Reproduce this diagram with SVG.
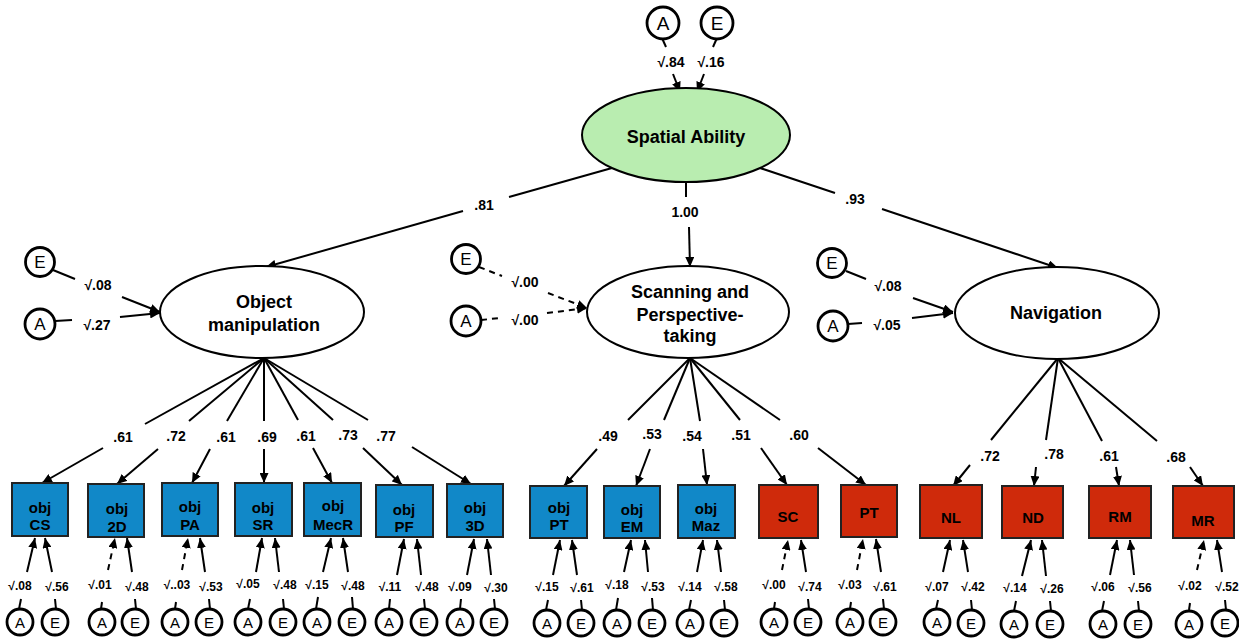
<svg xmlns="http://www.w3.org/2000/svg" width="1239" height="640" viewBox="0 0 1239 640">
<style>
.ln{stroke:#000;stroke-width:2;fill:none}
.ar{marker-end:url(#ah)}
.ds{stroke-dasharray:6 5}
.ec{fill:#fff;stroke:#000;stroke-width:2.8}
.t{font-family:"Liberation Sans",Arial,sans-serif;fill:#000;text-anchor:middle}
.big{font-size:18px;font-weight:bold}
.ld{font-size:14px;font-weight:bold}
.el{font-size:14px;font-weight:bold}
.bl{font-size:12px;font-weight:bold}
.bx{font-size:15px;font-weight:bold}
.blue{fill:#1188c8;stroke:#222;stroke-width:2}
.red{fill:#cf2a0b;stroke:#222;stroke-width:2}
</style>
<defs>
<marker id="ah" markerUnits="userSpaceOnUse" markerWidth="11" markerHeight="9" refX="10" refY="4.5" orient="auto">
<path d="M0,0 L10,4.5 L0,9 z" fill="#000"/>
</marker>
</defs>
<rect width="1239" height="640" fill="#fff"/>

<g id="connectors">
<line class="ln" x1="662" y1="38" x2="666" y2="47"/>
<line class="ln" x1="717" y1="38" x2="713" y2="47"/>
<line class="ln ar" x1="673" y1="74" x2="680" y2="92"/>
<line class="ln ar" x1="704" y1="74" x2="697" y2="92"/>
<line class="ln" x1="612" y1="168" x2="509" y2="197"/>
<line class="ln ar" x1="463" y1="211" x2="266" y2="267"/>
<line class="ln" x1="686" y1="182" x2="686" y2="197"/>
<line class="ln ar" x1="689" y1="227" x2="690" y2="267"/>
<line class="ln" x1="760" y1="168" x2="835" y2="193"/>
<line class="ln ar" x1="882" y1="209" x2="1058" y2="268"/>
<line class="ln" x1="53" y1="270" x2="75" y2="279"/>
<line class="ln ar" x1="122" y1="297" x2="160" y2="312"/>
<line class="ln" x1="55" y1="321" x2="72" y2="320"/>
<line class="ln ar" x1="120" y1="317" x2="160" y2="313"/>
<line class="ln ds" x1="479" y1="267" x2="502" y2="276"/>
<line class="ln ds ar" x1="548" y1="293" x2="587" y2="308"/>
<line class="ln ds" x1="481" y1="320" x2="500" y2="318"/>
<line class="ln ds ar" x1="547" y1="313" x2="587" y2="308"/>
<line class="ln" x1="846" y1="271" x2="866" y2="279"/>
<line class="ln ar" x1="913" y1="298" x2="953" y2="312"/>
<line class="ln" x1="848" y1="324" x2="862" y2="323"/>
<line class="ln ar" x1="912" y1="318" x2="953" y2="313"/>
<line class="ln" x1="264" y1="358" x2="145" y2="424"/>
<line class="ln ar" x1="103" y1="448" x2="42" y2="483"/>
<line class="ln" x1="264" y1="358" x2="189" y2="421"/>
<line class="ln ar" x1="158" y1="449" x2="117" y2="484"/>
<line class="ln" x1="264" y1="358" x2="227" y2="421"/>
<line class="ln ar" x1="210" y1="449" x2="192" y2="483"/>
<line class="ln" x1="264" y1="358" x2="264" y2="421"/>
<line class="ln ar" x1="264" y1="449" x2="264" y2="483"/>
<line class="ln" x1="264" y1="358" x2="298" y2="420"/>
<line class="ln ar" x1="313" y1="448" x2="332" y2="483"/>
<line class="ln" x1="264" y1="358" x2="333" y2="420"/>
<line class="ln ar" x1="363" y1="448" x2="402" y2="485"/>
<line class="ln" x1="264" y1="358" x2="368" y2="420"/>
<line class="ln ar" x1="412" y1="447" x2="471" y2="484"/>
<line class="ln" x1="690" y1="358" x2="628" y2="420"/>
<line class="ln ar" x1="597" y1="449" x2="564" y2="486"/>
<line class="ln" x1="690" y1="358" x2="664" y2="420"/>
<line class="ln ar" x1="650" y1="449" x2="636" y2="486"/>
<line class="ln" x1="690" y1="358" x2="700" y2="421"/>
<line class="ln ar" x1="703" y1="449" x2="707" y2="485"/>
<line class="ln" x1="690" y1="358" x2="740" y2="420"/>
<line class="ln ar" x1="761" y1="448" x2="787" y2="485"/>
<line class="ln" x1="690" y1="358" x2="780" y2="420"/>
<line class="ln ar" x1="818" y1="448" x2="866" y2="485"/>
<line class="ln" x1="1058" y1="358" x2="991" y2="440"/>
<line class="ln ar" x1="970" y1="465" x2="953" y2="486"/>
<line class="ln" x1="1058" y1="358" x2="1046" y2="440"/>
<line class="ln ar" x1="1036" y1="467" x2="1034" y2="486"/>
<line class="ln" x1="1058" y1="358" x2="1102" y2="441"/>
<line class="ln ar" x1="1116" y1="467" x2="1119" y2="486"/>
<line class="ln" x1="1058" y1="358" x2="1157" y2="441"/>
<line class="ln ar" x1="1190" y1="467" x2="1203" y2="486"/>
<g>
<line class="ln ar" x1="27" y1="572" x2="35" y2="538"/><line class="ln ar" x1="52" y1="572" x2="45" y2="538"/>
<line class="ln" x1="21" y1="599" x2="19" y2="609"/><line class="ln" x1="55" y1="599" x2="56" y2="609"/>
<line class="ln ds ar" x1="108" y1="570" x2="115" y2="538"/><line class="ln ar" x1="132" y1="572" x2="127" y2="538"/>
<line class="ln" x1="102" y1="602" x2="101" y2="609"/><line class="ln" x1="135" y1="599" x2="136" y2="609"/>
<line class="ln ds ar" x1="182" y1="570" x2="188" y2="538"/><line class="ln ar" x1="205" y1="572" x2="200" y2="538"/>
<line class="ln" x1="176" y1="602" x2="175" y2="609"/><line class="ln" x1="209" y1="599" x2="210" y2="609"/>
<line class="ln ar" x1="256" y1="572" x2="262" y2="538"/><line class="ln ar" x1="279" y1="572" x2="275" y2="538"/>
<line class="ln" x1="250" y1="599" x2="248" y2="609"/><line class="ln" x1="283" y1="599" x2="284" y2="609"/>
<line class="ln ar" x1="323" y1="572" x2="331" y2="538"/><line class="ln ar" x1="348" y1="572" x2="343" y2="538"/>
<line class="ln" x1="318" y1="597" x2="316" y2="609"/><line class="ln" x1="352" y1="597" x2="353" y2="609"/>
<line class="ln ar" x1="397" y1="575" x2="404" y2="539"/><line class="ln ar" x1="421" y1="575" x2="417" y2="539"/>
<line class="ln" x1="390" y1="599" x2="389" y2="609"/><line class="ln" x1="424" y1="599" x2="425" y2="609"/>
<line class="ln ar" x1="467" y1="575" x2="474" y2="539"/><line class="ln ar" x1="491" y1="575" x2="487" y2="539"/>
<line class="ln" x1="461" y1="599" x2="460" y2="609"/><line class="ln" x1="494" y1="599" x2="495" y2="609"/>
<line class="ln ar" x1="553" y1="575" x2="560" y2="540"/><line class="ln ar" x1="577" y1="575" x2="572" y2="540"/>
<line class="ln" x1="548" y1="600" x2="546" y2="610"/><line class="ln" x1="581" y1="600" x2="582" y2="610"/>
<line class="ln ar" x1="624" y1="572" x2="631" y2="540"/><line class="ln ar" x1="648" y1="572" x2="645" y2="540"/>
<line class="ln" x1="618" y1="598" x2="616" y2="610"/><line class="ln" x1="652" y1="598" x2="653" y2="610"/>
<line class="ln ar" x1="697" y1="572" x2="703" y2="540"/><line class="ln ar" x1="721" y1="572" x2="717" y2="540"/>
<line class="ln" x1="691" y1="600" x2="689" y2="610"/><line class="ln" x1="724" y1="600" x2="725" y2="610"/>
<line class="ln ds ar" x1="782" y1="570" x2="788" y2="540"/><line class="ln ar" x1="806" y1="572" x2="801" y2="540"/>
<line class="ln" x1="775" y1="602" x2="774" y2="609"/><line class="ln" x1="808" y1="599" x2="809" y2="609"/>
<line class="ln ds ar" x1="857" y1="570" x2="863" y2="539"/><line class="ln ar" x1="881" y1="572" x2="876" y2="539"/>
<line class="ln" x1="851" y1="602" x2="850" y2="609"/><line class="ln" x1="883" y1="599" x2="884" y2="609"/>
<line class="ln ar" x1="943" y1="572" x2="950" y2="540"/><line class="ln ar" x1="968" y1="572" x2="963" y2="540"/>
<line class="ln" x1="938" y1="600" x2="936" y2="609"/><line class="ln" x1="971" y1="600" x2="972" y2="610"/>
<line class="ln ar" x1="1022" y1="576" x2="1031" y2="540"/><line class="ln ar" x1="1046" y1="576" x2="1042" y2="540"/>
<line class="ln" x1="1016" y1="601" x2="1014" y2="611"/><line class="ln" x1="1050" y1="601" x2="1051" y2="611"/>
<line class="ln ar" x1="1110" y1="575" x2="1117" y2="540"/><line class="ln ar" x1="1134" y1="575" x2="1130" y2="540"/>
<line class="ln" x1="1104" y1="601" x2="1102" y2="611"/><line class="ln" x1="1138" y1="601" x2="1139" y2="611"/>
<line class="ln ds ar" x1="1197" y1="570" x2="1204" y2="540"/><line class="ln ar" x1="1222" y1="572" x2="1217" y2="540"/>
<line class="ln" x1="1190" y1="603" x2="1189" y2="610"/><line class="ln" x1="1225" y1="600" x2="1226" y2="610"/>
</g>
</g>

<g id="path-labels">
<text class="t el" x="671" y="67">√.84</text>
<text class="t el" x="711" y="67">√.16</text>
<text class="t ld" x="484" y="210">.81</text>
<text class="t ld" x="685" y="217">1.00</text>
<text class="t ld" x="855" y="204">.93</text>
<text class="t el" x="98" y="290">√.08</text>
<text class="t el" x="97" y="330">√.27</text>
<text class="t el" x="525" y="287">√.00</text>
<text class="t el" x="525" y="325">√.00</text>
<text class="t el" x="888" y="291">√.08</text>
<text class="t el" x="887" y="330">√.05</text>
<text class="t ld" x="123" y="442">.61</text>
<text class="t ld" x="176" y="441">.72</text>
<text class="t ld" x="226" y="442">.61</text>
<text class="t ld" x="267" y="442">.69</text>
<text class="t ld" x="306" y="441">.61</text>
<text class="t ld" x="348" y="440">.73</text>
<text class="t ld" x="386" y="441">.77</text>
<text class="t ld" x="608" y="441">.49</text>
<text class="t ld" x="652" y="439">.53</text>
<text class="t ld" x="692" y="441">.54</text>
<text class="t ld" x="741" y="440">.51</text>
<text class="t ld" x="799" y="440">.60</text>
<text class="t ld" x="990" y="461">.72</text>
<text class="t ld" x="1054" y="459">.78</text>
<text class="t ld" x="1109" y="461">.61</text>
<text class="t ld" x="1176" y="462">.68</text>
<text class="t bl" x="20" y="590">√.08</text><text class="t bl" x="57" y="591">√.56</text>
<text class="t bl" x="100" y="589">√.01</text><text class="t bl" x="137" y="591">√.48</text>
<text class="t bl" x="177" y="589">√..03</text><text class="t bl" x="211" y="591">√.53</text>
<text class="t bl" x="248" y="588">√.05</text><text class="t bl" x="285" y="589">√.48</text>
<text class="t bl" x="317" y="589">√.15</text><text class="t bl" x="353" y="590">√.48</text>
<text class="t bl" x="390" y="591">√.11</text><text class="t bl" x="427" y="591">√.48</text>
<text class="t bl" x="460" y="591">√.09</text><text class="t bl" x="496" y="592">√.30</text>
<text class="t bl" x="547" y="591">√.15</text><text class="t bl" x="582" y="592">√.61</text>
<text class="t bl" x="617" y="589">√.18</text><text class="t bl" x="653" y="591">√.53</text>
<text class="t bl" x="690" y="591">√.14</text><text class="t bl" x="726" y="591">√.58</text>
<text class="t bl" x="774" y="589">√.00</text><text class="t bl" x="810" y="591">√.74</text>
<text class="t bl" x="850" y="589">√.03</text><text class="t bl" x="885" y="591">√.61</text>
<text class="t bl" x="937" y="591">√.07</text><text class="t bl" x="973" y="591">√.42</text>
<text class="t bl" x="1015" y="592">√.14</text><text class="t bl" x="1052" y="593">√.26</text>
<text class="t bl" x="1103" y="591">√.06</text><text class="t bl" x="1140" y="592">√.56</text>
<text class="t bl" x="1190" y="590">√.02</text><text class="t bl" x="1227" y="591">√.52</text>
</g>

<g id="spatial-ability">
<ellipse cx="686" cy="135" rx="104" ry="47" fill="#b9edb0" stroke="#000" stroke-width="2"/>
<text class="t big" x="686" y="143">Spatial Ability</text>
</g>
<g id="object-manipulation">
<ellipse cx="262" cy="312" rx="102" ry="46" fill="#fff" stroke="#000" stroke-width="2"/>
<text class="t big" x="264" y="308">Object</text>
<text class="t big" x="264" y="331">manipulation</text>
</g>
<g id="scanning">
<ellipse cx="688" cy="312" rx="101" ry="46" fill="#fff" stroke="#000" stroke-width="2"/>
<text class="t big" x="690" y="298">Scanning and</text>
<text class="t big" x="690" y="321">Perspective-</text>
<text class="t big" x="690" y="342">taking</text>
</g>
<g id="navigation">
<ellipse cx="1057" cy="313" rx="102" ry="46" fill="#fff" stroke="#000" stroke-width="2"/>
<text class="t big" x="1056" y="319">Navigation</text>
</g>

<g id="top-errors">
<circle class="ec" cx="663" cy="23" r="16"/><text class="t" x="663" y="30" font-size="19">A</text>
<circle class="ec" cx="717" cy="23" r="16"/><text class="t" x="717" y="30" font-size="19">E</text>
</g>
<g id="om-errors">
<circle class="ec" cx="40" cy="262" r="14.5"/><text class="t" x="40" y="268" font-size="17">E</text>
<circle class="ec" cx="40" cy="324" r="15"/><text class="t" x="40" y="330" font-size="17">A</text>
</g>
<g id="sp-errors">
<circle class="ec" cx="466" cy="259" r="14.5"/><text class="t" x="466" y="265" font-size="17">E</text>
<circle class="ec" cx="466" cy="321" r="15"/><text class="t" x="466" y="327" font-size="17">A</text>
</g>
<g id="nav-errors">
<circle class="ec" cx="832" cy="263" r="14.5"/><text class="t" x="832" y="269" font-size="17">E</text>
<circle class="ec" cx="833" cy="326" r="15"/><text class="t" x="833" y="332" font-size="17">A</text>
</g>

<g id="obj-CS"><rect class="blue" x="12" y="483" width="56" height="53"/><text class="t bx" x="40" y="513">obj</text><text class="t bx" x="40" y="530">CS</text></g>
<g id="obj-2D"><rect class="blue" x="88" y="484" width="56" height="53"/><text class="t bx" x="117" y="514">obj</text><text class="t bx" x="117" y="532">2D</text></g>
<g id="obj-PA"><rect class="blue" x="162" y="483" width="56" height="53"/><text class="t bx" x="190" y="512">obj</text><text class="t bx" x="190" y="530">PA</text></g>
<g id="obj-SR"><rect class="blue" x="235" y="483" width="57" height="53"/><text class="t bx" x="263" y="513">obj</text><text class="t bx" x="263" y="530">SR</text></g>
<g id="obj-MecR"><rect class="blue" x="304" y="483" width="57" height="53"/><text class="t bx" x="333" y="511">obj</text><text class="t bx" x="333" y="530">MecR</text></g>
<g id="obj-PF"><rect class="blue" x="376" y="485" width="57" height="52"/><text class="t bx" x="404" y="515">obj</text><text class="t bx" x="404" y="532">PF</text></g>
<g id="obj-3D"><rect class="blue" x="447" y="484" width="56" height="53"/><text class="t bx" x="475" y="513">obj</text><text class="t bx" x="475" y="531">3D</text></g>
<g id="obj-PT"><rect class="blue" x="530" y="486" width="57" height="52"/><text class="t bx" x="559" y="513">obj</text><text class="t bx" x="559" y="530">PT</text></g>
<g id="obj-EM"><rect class="blue" x="604" y="486" width="56" height="52"/><text class="t bx" x="632" y="515">obj</text><text class="t bx" x="632" y="532">EM</text></g>
<g id="obj-Maz"><rect class="blue" x="678" y="485" width="57" height="53"/><text class="t bx" x="706" y="514">obj</text><text class="t bx" x="706" y="531">Maz</text></g>
<g id="SC"><rect class="red" x="759" y="485" width="59" height="53"/><text class="t bx" x="788" y="522">SC</text></g>
<g id="PT"><rect class="red" x="841" y="485" width="56" height="52"/><text class="t bx" x="869" y="518">PT</text></g>
<g id="NL"><rect class="red" x="920" y="485" width="62" height="53"/><text class="t bx" x="951" y="523">NL</text></g>
<g id="ND"><rect class="red" x="1002" y="486" width="61" height="52"/><text class="t bx" x="1033" y="523">ND</text></g>
<g id="RM"><rect class="red" x="1089" y="486" width="62" height="52"/><text class="t bx" x="1120" y="522">RM</text></g>
<g id="MR"><rect class="red" x="1173" y="486" width="61" height="52"/><text class="t bx" x="1203" y="526">MR</text></g>

<g id="bottom-errors">
<circle class="ec" cx="20" cy="622" r="13"/><text class="t" x="20" y="628" font-size="15">A</text>
<circle class="ec" cx="55" cy="622" r="13"/><text class="t" x="55" y="628" font-size="15">E</text>
<circle class="ec" cx="102" cy="622" r="13"/><text class="t" x="102" y="628" font-size="15">A</text>
<circle class="ec" cx="135" cy="622" r="13"/><text class="t" x="135" y="628" font-size="15">E</text>
<circle class="ec" cx="175" cy="622" r="13"/><text class="t" x="175" y="628" font-size="15">A</text>
<circle class="ec" cx="209" cy="622" r="13"/><text class="t" x="209" y="628" font-size="15">E</text>
<circle class="ec" cx="248" cy="622" r="13"/><text class="t" x="248" y="628" font-size="15">A</text>
<circle class="ec" cx="283" cy="622" r="13"/><text class="t" x="283" y="628" font-size="15">E</text>
<circle class="ec" cx="317" cy="622" r="13"/><text class="t" x="317" y="628" font-size="15">A</text>
<circle class="ec" cx="352" cy="622" r="13"/><text class="t" x="352" y="628" font-size="15">E</text>
<circle class="ec" cx="389" cy="622" r="13"/><text class="t" x="389" y="628" font-size="15">A</text>
<circle class="ec" cx="424" cy="622" r="13"/><text class="t" x="424" y="628" font-size="15">E</text>
<circle class="ec" cx="460" cy="622" r="13"/><text class="t" x="460" y="628" font-size="15">A</text>
<circle class="ec" cx="494" cy="622" r="13"/><text class="t" x="494" y="628" font-size="15">E</text>
<circle class="ec" cx="547" cy="623" r="13"/><text class="t" x="547" y="629" font-size="15">A</text>
<circle class="ec" cx="581" cy="623" r="13"/><text class="t" x="581" y="629" font-size="15">E</text>
<circle class="ec" cx="617" cy="623" r="13"/><text class="t" x="617" y="629" font-size="15">A</text>
<circle class="ec" cx="652" cy="623" r="13"/><text class="t" x="652" y="629" font-size="15">E</text>
<circle class="ec" cx="690" cy="623" r="13"/><text class="t" x="690" y="629" font-size="15">A</text>
<circle class="ec" cx="724" cy="623" r="13"/><text class="t" x="724" y="629" font-size="15">E</text>
<circle class="ec" cx="774" cy="622" r="13"/><text class="t" x="774" y="628" font-size="15">A</text>
<circle class="ec" cx="808" cy="622" r="13"/><text class="t" x="808" y="628" font-size="15">E</text>
<circle class="ec" cx="850" cy="622" r="13"/><text class="t" x="850" y="628" font-size="15">A</text>
<circle class="ec" cx="883" cy="622" r="13"/><text class="t" x="883" y="628" font-size="15">E</text>
<circle class="ec" cx="937" cy="622" r="13"/><text class="t" x="937" y="628" font-size="15">A</text>
<circle class="ec" cx="971" cy="623" r="13"/><text class="t" x="971" y="629" font-size="15">E</text>
<circle class="ec" cx="1014" cy="624" r="13"/><text class="t" x="1014" y="630" font-size="15">A</text>
<circle class="ec" cx="1050" cy="624" r="13"/><text class="t" x="1050" y="630" font-size="15">E</text>
<circle class="ec" cx="1103" cy="624" r="13"/><text class="t" x="1103" y="630" font-size="15">A</text>
<circle class="ec" cx="1138" cy="624" r="13"/><text class="t" x="1138" y="630" font-size="15">E</text>
<circle class="ec" cx="1189" cy="624" r="13"/><text class="t" x="1189" y="630" font-size="15">A</text>
<circle class="ec" cx="1225" cy="623" r="13"/><text class="t" x="1225" y="629" font-size="15">E</text>
</g>
</svg>
